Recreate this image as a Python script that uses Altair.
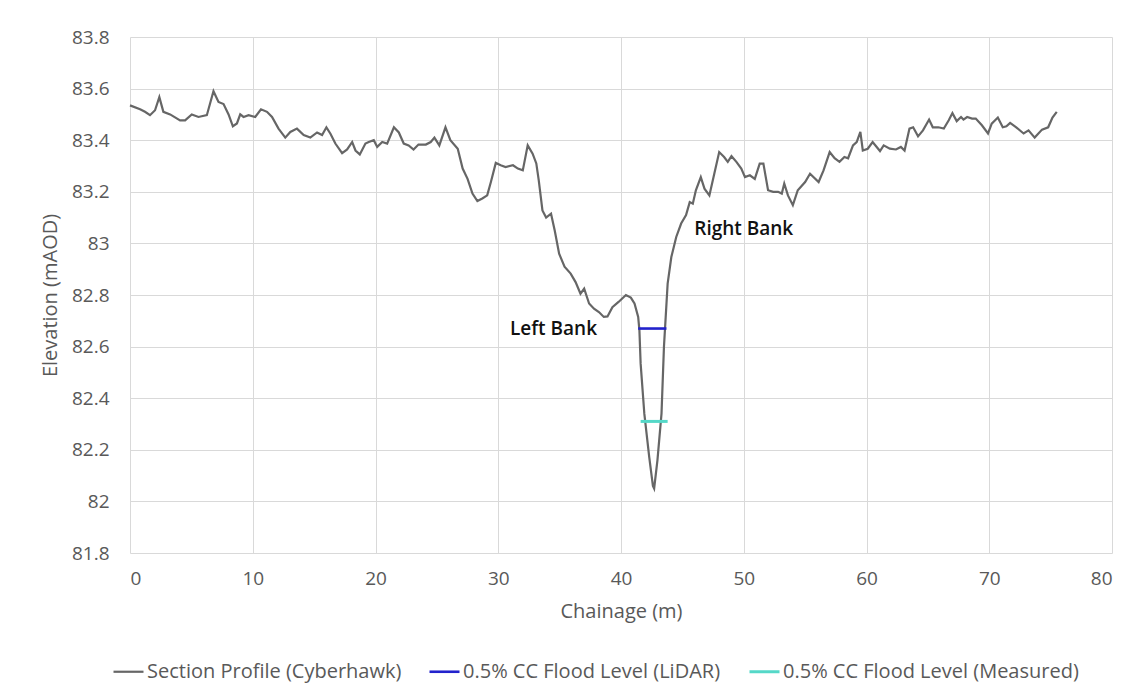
import altair as alt
import pandas as pd

# ---- data ----
chainage = [0, 0.82, 1.22, 1.63, 2.04, 2.39, 2.72, 3.27, 4.08, 4.49, 5.03, 5.58, 6.26, 6.80, 7.21, 7.62,
            8.03, 8.38, 8.71, 8.98, 9.25, 9.66, 10.2, 10.67, 11.16, 11.57, 12.1, 12.65, 13.06, 13.6, 14.15,
            14.69, 15.24, 15.65, 16.0, 16.33, 16.73, 17.28, 17.69, 18.1, 18.37, 18.72, 19.18, 19.45, 19.86,
            20.14, 20.55, 20.95, 21.5, 21.9, 22.3, 22.7, 23.1, 23.5, 24.1, 24.5, 24.8, 25.2, 25.7, 26.1,
            26.7, 27.1, 27.5, 27.9, 28.3, 28.7, 29.1, 29.4, 29.8, 30.2, 30.6, 31.2, 31.6, 32.0, 32.4, 32.8,
            33.1, 33.3, 33.6, 33.9, 34.3, 34.6, 34.96, 35.4, 35.9, 36.3, 36.7, 37.0, 37.4, 37.8, 38.2, 38.6,
            38.9, 39.3, 39.8, 40.4, 40.8, 41.1, 41.4, 41.5, 41.6, 41.9, 42.3, 42.6, 42.7, 42.97, 43.3, 43.5,
            43.8, 44.1, 44.5, 44.9, 45.3, 45.6, 45.85, 46.1, 46.5, 46.8, 47.2, 47.6, 48.0, 48.4, 48.7, 49.0,
            49.4, 49.8, 50.1, 50.5, 50.9, 51.3, 51.6, 51.98, 52.4, 52.8, 53.1, 53.3, 53.6, 54.0, 54.4, 55.0,
            55.4, 56.1, 56.5, 57.0, 57.4, 57.8, 58.2, 58.5, 58.9, 59.2, 59.5, 59.7, 60.1, 60.5, 61.1, 61.4,
            61.9, 62.4, 62.8, 63.1, 63.5, 63.8, 64.2, 64.6, 65.1, 65.4, 65.85, 66.3, 66.7, 67.0, 67.35, 67.7,
            67.9, 68.2, 68.6, 68.9, 69.4, 69.9, 70.2, 70.7, 71.1, 71.4, 71.7, 72.2, 72.8, 73.2, 73.7, 74.3,
            74.8, 75.15, 75.5]
elevation = [83.535, 83.52, 83.51, 83.497, 83.516, 83.567, 83.51, 83.50, 83.477, 83.477, 83.50, 83.49,
             83.497, 83.59, 83.548, 83.54, 83.50, 83.454, 83.465, 83.50, 83.49, 83.497, 83.49, 83.52,
             83.51, 83.49, 83.445, 83.41, 83.432, 83.445, 83.42, 83.41, 83.43, 83.42, 83.45, 83.425,
             83.387, 83.35, 83.364, 83.393, 83.36, 83.345, 83.387, 83.393, 83.40, 83.374, 83.393, 83.387,
             83.45, 83.43, 83.387, 83.38, 83.364, 83.383, 83.383, 83.393, 83.41, 83.38, 83.45, 83.40,
             83.367, 83.29, 83.25, 83.193, 83.164, 83.174, 83.186, 83.238, 83.312, 83.303, 83.296, 83.303,
             83.29, 83.283, 83.38, 83.348, 83.31, 83.244, 83.128, 83.10, 83.115, 83.05, 82.96, 82.91,
             82.883, 82.85, 82.805, 82.825, 82.767, 82.747, 82.734, 82.715, 82.717, 82.753, 82.773, 82.80,
             82.79, 82.767, 82.715, 82.663, 82.534, 82.34, 82.172, 82.06, 82.05, 82.16, 82.34, 82.60,
             82.844, 82.947, 83.025, 83.077, 83.11, 83.16, 83.154, 83.206, 83.257, 83.212, 83.186, 83.27,
             83.354, 83.335, 83.316, 83.338, 83.316, 83.29, 83.257, 83.264, 83.25, 83.309, 83.309, 83.206,
             83.20, 83.20, 83.193, 83.232, 83.186, 83.148, 83.206, 83.238, 83.27, 83.238, 83.283, 83.354,
             83.33, 83.316, 83.335, 83.33, 83.38, 83.393, 83.432, 83.36, 83.367, 83.393, 83.358, 83.38,
             83.367, 83.364, 83.374, 83.36, 83.445, 83.45, 83.415, 83.438, 83.48, 83.45, 83.45, 83.445,
             83.477, 83.505, 83.474, 83.49, 83.48, 83.49, 83.484, 83.484, 83.458, 83.426, 83.464, 83.488,
             83.45, 83.454, 83.467, 83.45, 83.426, 83.438, 83.41, 83.441, 83.45, 83.488, 83.51]

lidar_x = [41.4, 43.7]
lidar_y = [82.67, 82.67]
measured_x = [41.6, 43.8]
measured_y = [82.31, 82.31]

series_names = ["Section Profile (Cyberhawk)", "0.5% CC Flood Level (LiDAR)",
                "0.5% CC Flood Level (Measured)"]
series_colors = ["#666666", "#2222cc", "#55d8c8"]
series_widths = [2.2, 3, 3]

ann_text = ["Left Bank", "Right Bank"]
ann_x = [34.5, 50.0]
ann_y = [82.668, 83.055]

x_ticks = [0, 10, 20, 30, 40, 50, 60, 70, 80]
y_ticks = [81.8, 82.0, 82.2, 82.4, 82.6, 82.8, 83.0, 83.2, 83.4, 83.6, 83.8]

# ---- tables ----
rows = []
for xv, yv in zip(chainage, elevation):
    rows.append({"series": series_names[0], "x": xv, "y": yv})
for xv, yv in zip(lidar_x, lidar_y):
    rows.append({"series": series_names[1], "x": xv, "y": yv})
for xv, yv in zip(measured_x, measured_y):
    rows.append({"series": series_names[2], "x": xv, "y": yv})
df = pd.DataFrame(rows)
ann = pd.DataFrame({"text": ann_text, "x": ann_x, "y": ann_y})

FONT = "Open Sans"
GREY = "#595959"

xscale = alt.Scale(domain=[0, 80], nice=False)
yscale = alt.Scale(domain=[81.8, 83.8], nice=False, zero=False)

lines = alt.Chart(df).mark_line().encode(
    x=alt.X("x:Q", scale=xscale,
            axis=alt.Axis(title="Chainage (m)", values=x_ticks, labelPadding=16,
                          titleY=58, titleBaseline="middle")),
    y=alt.Y("y:Q", scale=yscale,
            axis=alt.Axis(title="Elevation (mAOD)", values=y_ticks, format=".1~f",
                          labelPadding=21, titleX=-80, titleY=258,
                          titleBaseline="middle", titleAngle=-90)),
    color=alt.Color("series:N",
                    scale=alt.Scale(domain=series_names, range=series_colors),
                    legend=alt.Legend(title=None, orient="none", direction="horizontal",
                                      legendX=-18, legendY=618, symbolType="stroke",
                                      symbolSize=900, symbolStrokeWidth=2.5,
                                      labelOffset=2, columnPadding=22, padding=0)),
    strokeWidth=alt.StrokeWidth("series:N",
                                scale=alt.Scale(domain=series_names, range=series_widths),
                                legend=None),
)

texts = alt.Chart(ann).mark_text(font=FONT, fontSize=19, fontWeight=600, color="#111111",
                                 align="center", baseline="middle").encode(
    x=alt.X("x:Q", scale=xscale),
    y=alt.Y("y:Q", scale=yscale),
    text="text:N",
)

chart = alt.layer(lines, texts).properties(
    width=982, height=516,
    autosize=alt.AutoSizeParams(type="none"),
    padding={"left": 122, "top": 29, "right": 5, "bottom": 140},
    background="white",
).configure_view(stroke=None).configure_axis(
    grid=True, gridColor="#d9d9d9", gridWidth=1, domain=False, ticks=False,
    labelFont=FONT, labelFontSize=19, labelColor=GREY,
    titleFont=FONT, titleFontSize=20, titleColor=GREY, titleFontWeight="normal",
).configure_legend(
    labelFont=FONT, labelFontSize=20, labelColor=GREY, labelLimit=0,
)

chart.save("out.html", embed_options={"renderer": "svg", "actions": False})
